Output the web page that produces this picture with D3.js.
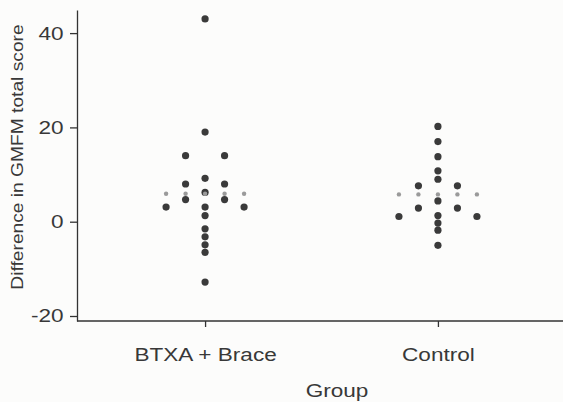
<!DOCTYPE html>
<html>
<head>
<meta charset="utf-8">
<script src="https://cdn.jsdelivr.net/npm/d3@7"></script>
<style>
  body { margin: 0; background: #fcfcfb; }
  svg { display: block; font-family: "Liberation Sans", Arial, sans-serif; }
  text { fill: #383838; }
</style>
</head>
<body>
<svg></svg>
<script>
let groups = ["BTXA + Brace", "Control"];

// difference in GMFM total score, with dot column (-2..2)
let btxaValues = [43.0, 19.0, 14.0, 14.0, 9.2, 8.0, 8.0, 6.2, 4.7, 4.7, 3.1, 3.1, 3.1, 1.3, -1.5, -3.2, -4.9, -6.5, -12.8];
let btxaSlots  = [0, 0, -1, 1, 0, -1, 1, 0, -1, 1, -2, 0, 2, 0, 0, 0, 0, 0, 0];

let controlValues = [20.2, 17.0, 13.8, 10.8, 9.0, 7.6, 7.6, 4.4, 2.9, 2.9, 1.1, 1.3, 1.1, -0.3, -1.8, -5.0];
let controlSlots  = [0, 0, 0, 0, 0, -1, 1, 0, -1, 1, -2, 0, 2, 0, 0, 0];

let meanSlots = [-2, -1, 0, 1, 2];
let yTicks = [-20, 0, 20, 40];

let width = 563;
let height = 402;
let left = 77;
let stretch = 1.22;
let fontSize = 18.5;

let svg = d3.select("svg").attr("width", width).attr("height", height);

let xScale = d3.scalePoint().domain(groups).range([left, 566]).padding(0.55);
let yScale = d3.scaleLinear().domain([-21.06, 44.9]).range([321, 10]);
let slotScale = d3.scaleLinear().domain([-2, 2]).range([-39, 39]);

let points = [];
btxaValues.forEach((v, i) => points.push({ group: groups[0], value: v, slot: btxaSlots[i] }));
controlValues.forEach((v, i) => points.push({ group: groups[1], value: v, slot: controlSlots[i] }));

let means = [];
[btxaValues, controlValues].forEach((vals, g) => {
  let m = d3.mean(vals);
  meanSlots.forEach((s) => means.push({ group: groups[g], value: m, slot: s }));
});

// axes
let yAxis = d3.axisLeft(yScale)
  .tickValues(yTicks)
  .tickFormat((d) => String(d))
  .tickSize(7)
  .tickSizeOuter(0)
  .tickPadding(4);
let yG = svg.append("g").attr("transform", "translate(" + left + ",0)").call(yAxis);

let xAxis = d3.axisBottom(xScale).tickSize(6).tickSizeOuter(0).tickPadding(21);
let xG = svg.append("g").attr("transform", "translate(0," + yScale.range()[0] + ")").call(xAxis);

svg.selectAll(".domain, .tick line").attr("stroke", "#333").attr("stroke-width", 1.3);
svg.selectAll(".tick text")
  .attr("font-size", fontSize)
  .attr("font-family", "Liberation Sans, Arial, sans-serif")
  .attr("fill", "#383838")
  .attr("transform", "scale(" + stretch + ",1)");
xG.select(".domain").attr("d", "M" + left + ",0H" + width);

// axis titles
svg.append("text")
  .attr("transform", "translate(337,397) scale(" + stretch + ",1)")
  .attr("text-anchor", "middle")
  .attr("font-size", fontSize)
  .text("Group");

svg.append("text")
  .attr("transform", "translate(23,157) rotate(-90) scale(1.13,1)")
  .attr("text-anchor", "middle")
  .attr("font-size", 17)
  .text("Difference in GMFM total score");

// dots
svg.append("g")
  .selectAll("circle")
  .data(points)
  .enter()
  .append("circle")
  .attr("cx", (d) => xScale(d.group) + slotScale(d.slot))
  .attr("cy", (d) => yScale(d.value))
  .attr("r", 3.6)
  .attr("fill", "#3a3a3a");

svg.append("g")
  .selectAll("circle")
  .data(means)
  .enter()
  .append("circle")
  .attr("cx", (d) => xScale(d.group) + slotScale(d.slot))
  .attr("cy", (d) => yScale(d.value))
  .attr("r", 2.2)
  .attr("fill", "#9a9a9a");
</script>
</body>
</html>
